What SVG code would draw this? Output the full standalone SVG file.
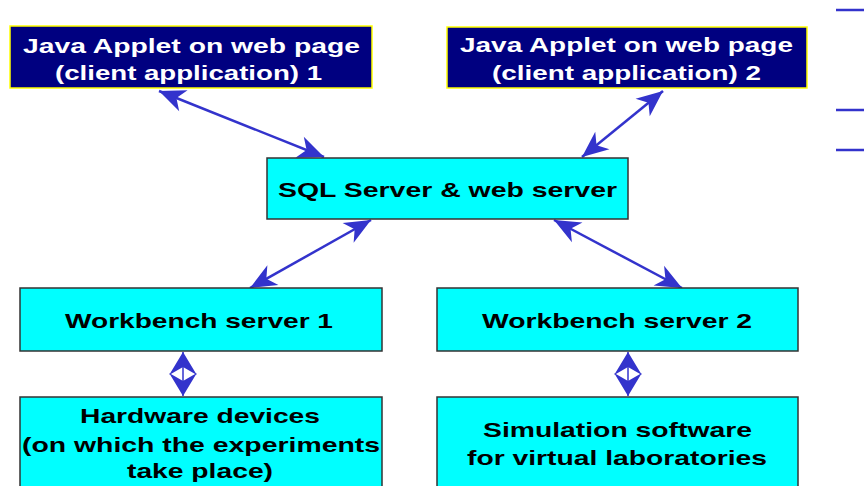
<svg xmlns="http://www.w3.org/2000/svg" width="864" height="486" viewBox="0 0 864 486">
<style>
.client{fill:#000080;stroke:#ffff00;stroke-width:1.5}
.srv{fill:#00ffff;stroke:#333333;stroke-width:1.5}
.tw{fill:#ffffff;font-family:"Liberation Sans",Arial,sans-serif;font-weight:bold;font-size:21px}
.tb{fill:#000000;font-family:"Liberation Sans",Arial,sans-serif;font-weight:bold;font-size:21px}
.conn{stroke:#3333cc;stroke-width:2.5;fill:none;marker-start:url(#ah);marker-end:url(#ah)}
.vconn{stroke:#3333cc;stroke-width:1.5;fill:none;marker-start:url(#ahv);marker-end:url(#ahv)}
.tick{stroke:#3333cc;stroke-width:2.5}
</style>
<defs>
<marker id="ah" markerUnits="userSpaceOnUse" markerWidth="30" markerHeight="30" viewBox="-22 -11 24 22" refX="0" refY="0" orient="auto-start-reverse">
<path d="M0,0 L-21,-9 L-15,0 L-21,9 Z" fill="#3333cc"/>
</marker>
<marker id="ahv" markerUnits="userSpaceOnUse" markerWidth="30" markerHeight="30" viewBox="-22 -13 24 26" refX="0" refY="0" orient="auto-start-reverse">
<path d="M0,0 L-20,-12 L-13,0 L-20,12 Z" fill="#3333cc"/>
</marker>
</defs>
<rect width="864" height="486" fill="#ffffff"/>
<g id="connectors">
<line class="conn" x1="159" y1="91" x2="324" y2="157"/>
<line class="conn" x1="663" y1="91" x2="582" y2="157"/>
<line class="conn" x1="371" y1="220" x2="250" y2="288"/>
<line class="conn" x1="554" y1="220" x2="682" y2="288"/>
<line class="vconn" x1="183" y1="352" x2="183" y2="396"/>
<line class="vconn" x1="628" y1="352" x2="628" y2="396"/>
</g>
<g id="ticks">
<line class="tick" x1="836" y1="10" x2="864" y2="10"/>
<line class="tick" x1="836" y1="110" x2="864" y2="110"/>
<line class="tick" x1="836" y1="150" x2="864" y2="150"/>
</g>
<g id="client1">
<rect class="client" x="10" y="26" width="362" height="62"/>
<text class="tw" x="23" y="53" textLength="337" lengthAdjust="spacingAndGlyphs">Java Applet on web page</text>
<text class="tw" x="55" y="80" textLength="267" lengthAdjust="spacingAndGlyphs">(client application) 1</text>
</g>
<g id="client2">
<rect class="client" x="447" y="27" width="360" height="61"/>
<text class="tw" x="460" y="52" textLength="333" lengthAdjust="spacingAndGlyphs">Java Applet on web page</text>
<text class="tw" x="492" y="80" textLength="269" lengthAdjust="spacingAndGlyphs">(client application) 2</text>
</g>
<g id="sqlserver">
<rect class="srv" x="267" y="158" width="361" height="61"/>
<text class="tb" x="278" y="197" font-size="22" textLength="339" lengthAdjust="spacingAndGlyphs">SQL Server &amp; web server</text>
</g>
<g id="workbench1">
<rect class="srv" x="20" y="288" width="362" height="63"/>
<text class="tb" x="65" y="328" textLength="268" lengthAdjust="spacingAndGlyphs">Workbench server 1</text>
</g>
<g id="workbench2">
<rect class="srv" x="437" y="288" width="361" height="63"/>
<text class="tb" x="482" y="328" textLength="270" lengthAdjust="spacingAndGlyphs">Workbench server 2</text>
</g>
<g id="hardware">
<rect class="srv" x="20" y="397" width="362" height="100"/>
<text class="tb" x="80" y="423" textLength="240" lengthAdjust="spacingAndGlyphs">Hardware devices</text>
<text class="tb" x="22" y="452" textLength="358" lengthAdjust="spacingAndGlyphs">(on which the experiments</text>
<text class="tb" x="127" y="478" textLength="146" lengthAdjust="spacingAndGlyphs">take place)</text>
</g>
<g id="simulation">
<rect class="srv" x="437" y="397" width="361" height="100"/>
<text class="tb" x="483" y="437" textLength="269" lengthAdjust="spacingAndGlyphs">Simulation software</text>
<text class="tb" x="467" y="465" textLength="300" lengthAdjust="spacingAndGlyphs">for virtual laboratories</text>
</g>
</svg>
